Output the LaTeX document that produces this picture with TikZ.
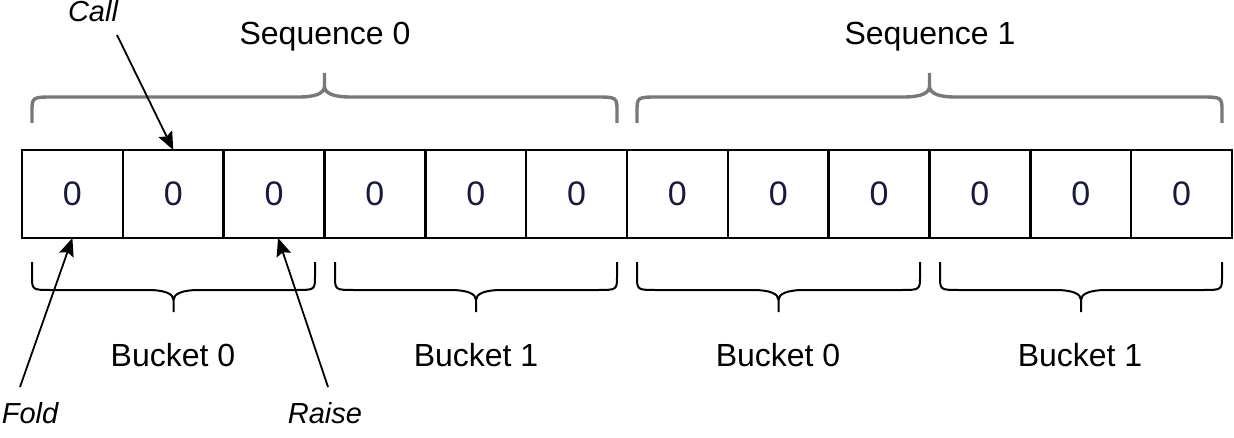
\documentclass[tikz,border=0pt]{standalone}
\usepackage{fontspec}
\setmainfont{Liberation Sans}
\usepackage{xcolor}
\usetikzlibrary{arrows.meta}

\definecolor{digitblue}{RGB}{25,25,60}
\definecolor{seqgray}{RGB}{120,120,120}

\tikzset{
  cell/.style={draw, line width=1.2pt, minimum width=50.42pt, minimum height=44pt,
    inner sep=0pt, outer sep=0pt, text=digitblue, font=\fontsize{17}{20}\selectfont},
  seqbrace/.style={draw=seqgray, line width=1.7pt},
  bktbrace/.style={draw=black, line width=1pt},
  bigtext/.style={font=\fontsize{16}{19}\selectfont, anchor=base, inner sep=0pt},
  ptrtext/.style={font=\itshape\fontsize{14.5}{17}\selectfont, anchor=base, inner sep=0pt},
  ptr/.style={line width=0.9pt, -{Stealth[length=9pt,width=7.5pt,inset=1.5pt]}},
}

\begin{document}
\begin{tikzpicture}[x=0.5pt, y=-0.5pt]
  \useasboundingbox (0,0) rectangle (1234,438);

  % ---- the twelve cells ----
  \foreach \i in {0,...,11} {
    \node[cell] (c\i) at ({22+100.83*(\i+0.5)},194) {0};
  }

  % ---- sequence braces (above) ----
  \foreach \xa/\xb in {32/617, 637/1222} {
    \pgfmathsetmacro{\xm}{(\xa+\xb)/2}
    \draw[seqbrace] (\xa,123) -- (\xa,112) .. controls (\xa,97) .. (\xa+22,97)
      -- (\xm-26,97) .. controls (\xm-8,97) and (\xm,93) .. (\xm,86)
      .. controls (\xm,93) and (\xm+8,97) .. (\xm+26,97)
      -- (\xb-22,97) .. controls (\xb,97) .. (\xb,112) -- (\xb,123)
      (\xm,86) -- (\xm,73);
  }
  \node[bigtext] (seq0) at (325,45) {Sequence 0};
  \node[bigtext] (seq1) at (930,45) {Sequence 1};

  % ---- bucket braces (below) ----
  \foreach \xa/\xb in {32/315, 335/617, 637/920, 940/1222} {
    \pgfmathsetmacro{\xm}{(\xa+\xb)/2}
    \draw[bktbrace] (\xa,262) -- (\xa,276) .. controls (\xa,290) .. (\xa+20,290)
      -- (\xm-26,290) .. controls (\xm-8,290) and (\xm,294) .. (\xm,300)
      .. controls (\xm,294) and (\xm+8,290) .. (\xm+26,290)
      -- (\xb-20,290) .. controls (\xb,290) .. (\xb,276) -- (\xb,262)
      (\xm,300) -- (\xm,312);
  }
  \foreach \x/\bk [count=\k] in {173/0, 476/1, 778/0, 1080/1} {
    \node[bigtext] (bkt\k) at (\x,366) {Bucket \bk};
  }

  % ---- pointers ----
  \node[ptrtext] (call) at (93,22) {Call};
  \node[ptrtext] (fold) at (30,423) {Fold};
  \node[ptrtext] (raise) at (325,423) {Raise};
  \coordinate (callstart) at (117,35);
  \coordinate (foldstart) at (20,387);
  \coordinate (raisestart) at (328,387);
  \draw[ptr] (callstart) -- (c1.north);
  \draw[ptr] (foldstart) -- (c0.south);
  \draw[ptr] (raisestart) -- ([xshift=2pt]c2.south);
\end{tikzpicture}
\end{document}
